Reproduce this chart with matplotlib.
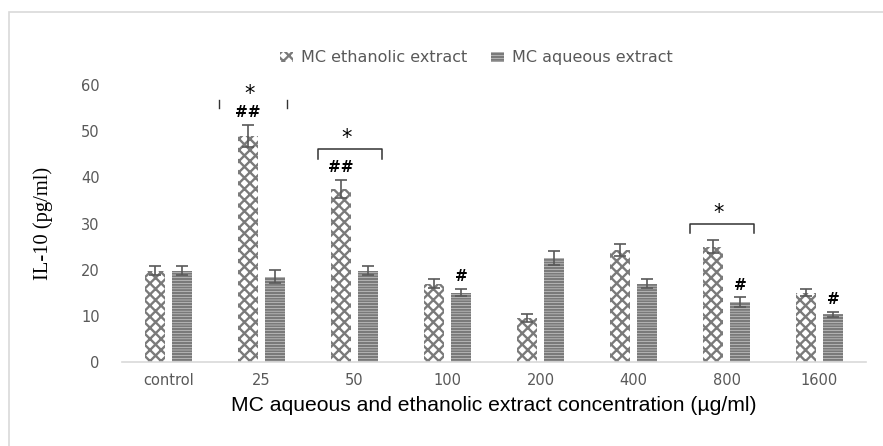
import matplotlib

matplotlib.use("Agg")
import matplotlib.pyplot as plt
import numpy as np
from matplotlib.patches import Rectangle

categories = ["control", "25", "50", "100", "200", "400", "800", "1600"]
ethanolic = [19.8, 49.0, 37.5, 17.0, 9.5, 24.2, 25.0, 15.0]
ethanolic_err = [1.0, 2.4, 2.0, 1.0, 0.8, 1.3, 1.4, 0.8]
aqueous = [19.8, 18.5, 19.8, 15.0, 22.5, 17.0, 13.0, 10.3]
aqueous_err = [1.0, 1.4, 1.0, 0.8, 1.5, 1.0, 1.0, 0.6]

# significance marks: (category index, series, text)
hash_marks = [(1, "eth", "##"), (2, "eth", "##"), (3, "aq", "#"),
              (6, "aq", "#"), (7, "aq", "#")]
star_groups = [1, 2, 6]

GREY = "#7a7a7a"
LABEL_GREY = "#595959"

plt.rcParams["hatch.linewidth"] = 1.7

fig = plt.figure(figsize=(8.83, 4.46), dpi=100)
ax = fig.add_axes([122 / 883, 1 - 362 / 446, 744 / 883, 277 / 446])

x = np.arange(len(categories))
w = 0.215
off = 0.145

ax.bar(x - off, ethanolic, w, color="white", edgecolor=GREY, hatch="xxx",
       linewidth=0, label="MC ethanolic extract")
ax.bar(x + off, aqueous, w, color="white", edgecolor=GREY, hatch="------",
       linewidth=0, label="MC aqueous extract")
ax.errorbar(x - off, ethanolic, yerr=ethanolic_err, fmt="none",
            ecolor="#595959", elinewidth=1.2, capsize=4, capthick=1.2)
ax.errorbar(x + off, aqueous, yerr=aqueous_err, fmt="none",
            ecolor="#595959", elinewidth=1.2, capsize=4, capthick=1.2)

for i, series, txt in hash_marks:
    if series == "eth":
        xp, top = x[i] - off, ethanolic[i] + ethanolic_err[i]
    else:
        xp, top = x[i] + off, aqueous[i] + aqueous_err[i]
    ax.text(xp, top + 1.0, txt, ha="center", va="bottom", fontsize=11,
            fontweight="bold", color="black", family="DejaVu Sans")

# brackets with a star over each group
for i in star_groups:
    if i == 1:
        # bracket top is clipped in the original, only the legs show
        x0, x1, y0 = x[i] - 0.46, x[i] + 0.27, 56.8
        ax.plot([x0, x0], [y0 - 1.8, y0], color="#333333", lw=1)
        ax.plot([x1, x1], [y0 - 1.8, y0], color="#333333", lw=1)
        ax.text(x[i] - 0.13, y0 - 1.0, "*", ha="center", va="bottom",
                fontsize=15, color="black")
    else:
        top = max(ethanolic[i] + ethanolic_err[i], aqueous[i] + aqueous_err[i])
        y0 = top + (6.6 if i == 2 else 3.6)
        x0, x1 = x[i] - 0.39, x[i] + 0.30
        ax.plot([x0, x0, x1, x1], [y0 - 2.1, y0, y0, y0 - 2.1],
                color="#333333", lw=1.1)
        ax.text(x[i] - 0.08, y0 + 0.2, "*", ha="center", va="bottom",
                fontsize=15, color="black")

ax.set_xlim(-0.5, len(categories) - 0.5)
ax.set_ylim(0, 60)
ax.set_xticks(x)
ax.set_xticklabels(categories)
ax.set_yticks(range(0, 61, 10))
ax.tick_params(axis="both", length=0, labelsize=10.5, colors=LABEL_GREY, pad=8)
ax.tick_params(axis="y", pad=16)
for side in ["top", "right", "left"]:
    ax.spines[side].set_visible(False)
ax.spines["bottom"].set_color("#d9d9d9")
ax.spines["bottom"].set_linewidth(1.2)

ax.set_ylabel("IL-10 (pg/ml)", family="Liberation Serif", fontsize=14.8,
              color="black", labelpad=20)
ax.set_xlabel("MC aqueous and ethanolic extract concentration (µg/ml)",
              family="Liberation Sans", fontsize=15.2, color="black", labelpad=6)

leg = ax.legend(loc="lower center", bbox_to_anchor=(0.476, 1.042), ncol=2,
                frameon=False, fontsize=11.5, handlelength=0.8, handleheight=0.6,
                columnspacing=1.5, handletextpad=0.5, borderpad=0)
for t in leg.get_texts():
    t.set_color(LABEL_GREY)

fig.patches.append(Rectangle((9 / 883, -0.1), 1.1, 1 - 12 / 446 + 0.1,
                             transform=fig.transFigure, fill=False,
                             edgecolor="#d9d9d9", lw=1.2))

fig.savefig("out.png", dpi=100)
